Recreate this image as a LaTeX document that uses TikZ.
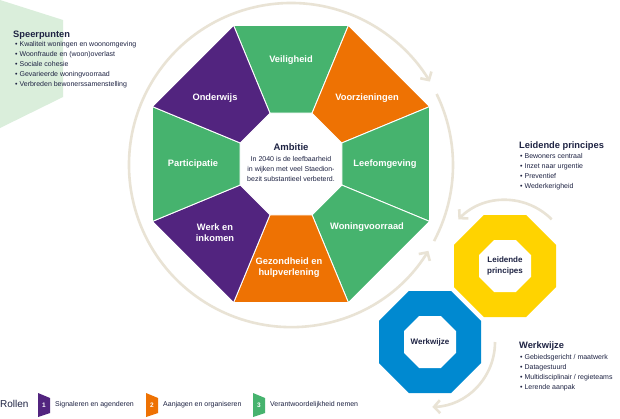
\documentclass[tikz,border=0pt]{standalone}
\usepackage{fontspec}
\setmainfont{Liberation Sans}
\usepackage{xcolor}
\usepackage{tikz}
\usetikzlibrary{arrows.meta}
\usetikzlibrary{shapes.geometric}
\usetikzlibrary{calc}

\definecolor{stgreen}{HTML}{46B36E}
\definecolor{stpurple}{HTML}{52247F}
\definecolor{storange}{HTML}{EE7203}
\definecolor{styellow}{HTML}{FFD300}
\definecolor{stblue}{HTML}{0089D0}
\definecolor{stnavy}{HTML}{1E2343}
\definecolor{stbeige}{HTML}{E9E3D5}
\definecolor{stmint}{HTML}{DAEEDB}

\begin{document}
\begin{tikzpicture}[x=1pt,y=-1pt]
      \tikzstyle{segment}=[draw=white,line width=0.9pt,line join=round]
      \tikzstyle{seglabel}=[text=white,font=\bfseries\fontsize{9.3}{11}\selectfont,align=center,inner sep=0pt]
      \tikzstyle{loopline}=[draw=stbeige,line width=2.6pt]
      \tikzstyle{barbs}=[{Straight Barb[length=6pt,width=13pt]}-{Straight Barb[length=6pt,width=13pt]}]
      \tikzstyle{barb}=[-{Straight Barb[length=6pt,width=13pt]}]
      \tikzstyle{heading}=[text=stnavy,font=\bfseries\fontsize{9.3}{11}\selectfont,anchor=west,inner sep=0pt]
      \tikzstyle{itemlist}=[text=stnavy,font=\fontsize{7}{10}\selectfont,anchor=west,align=left,inner sep=0pt]
      \tikzstyle{ring}=[regular polygon,regular polygon sides=8,inner sep=0pt]
      \tikzstyle{ringlabel}=[text=stnavy,font=\bfseries\fontsize{8}{11}\selectfont,align=center]
      \tikzstyle{badgenum}=[text=white,font=\bfseries\fontsize{6.5}{7}\selectfont,inner sep=0pt]
      \tikzstyle{legendtext}=[text=stnavy,font=\fontsize{7}{8}\selectfont,anchor=west,inner sep=0pt]

      \fill[white] (0,0) rectangle (620,418);
      \useasboundingbox (0,0) rectangle (620,418);

      % speerpunten
      \fill[stmint] (0,0) -- (63,20) -- (63,97) -- (0,128) -- cycle;
      \node[heading] (speer) at (13,35) {Speerpunten};
      \node[itemlist] (speerlist) at (15,65) {\textbullet\ Kwaliteit woningen en woonomgeving\\
        \textbullet\ Woonfraude en (woon)overlast\\
        \textbullet\ Sociale cohesie\\
        \textbullet\ Gevarieerde woningvoorraad\\
        \textbullet\ Verbreden bewonerssamenstelling};

      % big circle
      \coordinate (hub) at (291,165);
      \draw[loopline,barbs] ($(hub)+(32:162)$) arc[start angle=32, end angle=329, radius=162];
      \draw[loopline] ($(hub)+(-26:162)$) arc[start angle=-26, end angle=28, radius=162];

      % octagon of themes
      \begin{scope}[shift={(291,164)}]
        \path[segment,fill=stgreen]  (-112.5:150) -- (-67.5:150) -- (-67.5:55) -- (-112.5:55) -- cycle;
        \path[segment,fill=storange] (-67.5:150) -- (-22.5:150) -- (-22.5:55) -- (-67.5:55) -- cycle;
        \path[segment,fill=stgreen]  (-22.5:150) -- (22.5:150) -- (22.5:55) -- (-22.5:55) -- cycle;
        \path[segment,fill=stgreen]  (22.5:150) -- (67.5:150) -- (67.5:55) -- (22.5:55) -- cycle;
        \path[segment,fill=storange] (67.5:150) -- (112.5:150) -- (112.5:55) -- (67.5:55) -- cycle;
        \path[segment,fill=stpurple] (112.5:150) -- (157.5:150) -- (157.5:55) -- (112.5:55) -- cycle;
        \path[segment,fill=stgreen]  (157.5:150) -- (202.5:150) -- (202.5:55) -- (157.5:55) -- cycle;
        \path[segment,fill=stpurple] (202.5:150) -- (247.5:150) -- (247.5:55) -- (202.5:55) -- cycle;
      \end{scope}
      \node[seglabel] (veilig) at (291,60) {Veiligheid};
      \node[seglabel] (voorz) at (367,98) {Voorzieningen};
      \node[seglabel] (leefomg) at (385,164) {Leefomgeving};
      \node[seglabel] (woning) at (367,227) {Woningvoorraad};
      \node[seglabel] (gezond) at (289,268) {Gezondheid en\\hulpverlening};
      \node[seglabel] (werk) at (215,233) {Werk en\\inkomen};
      \node[seglabel] (partic) at (193,164) {Participatie};
      \node[seglabel] (onderw) at (215,98) {Onderwijs};

      \node[text=stnavy,font=\bfseries\fontsize{9.5}{11}\selectfont,inner sep=0pt] (ambitie) at (291,147) {Ambitie};
      \node[text=stnavy,font=\fontsize{7}{10}\selectfont,align=center,inner sep=0pt] (ambitext) at (291,169)
        {In 2040 is de leefbaarheid\\in wijken met veel Staedion-\\bezit substantieel verbeterd.};

      % leidende principes
      \node[ring,fill=styellow,minimum size=110.4pt] (leadring) at (505,266) {};
      \node[ring,fill=white,minimum size=56.3pt] (lead) at (505,266) {};
      \node[ringlabel] (leadtext) at (505,266) {Leidende\\principes};
      \draw[loopline,barb] ($(lead)+(-45:66)$) arc[start angle=-45, end angle=-135, radius=66];
      \node[heading] (leadhead) at (519,146) {Leidende principes};
      \node[itemlist] (leadlist) at (520,172) {\textbullet\ Bewoners centraal\\
        \textbullet\ Inzet naar urgentie\\
        \textbullet\ Preventief\\
        \textbullet\ Wederkerigheid};

      % werkwijze
      \node[ring,fill=stblue,minimum size=110.4pt] (workring) at (430,342) {};
      \node[ring,fill=white,minimum size=56.3pt] (work) at (430,342) {};
      \node[ringlabel] (worktext) at (430,342) {Werkwijze};
      \draw[loopline,barb] ($(work)+(0:65)$) arc[start angle=0, end angle=88, radius=65];
      \node[heading] (workhead) at (519,346) {Werkwijze};
      \node[itemlist] (worklist) at (520,373) {\textbullet\ Gebiedsgericht / maatwerk\\
        \textbullet\ Datagestuurd\\
        \textbullet\ Multidisciplinair / regieteams\\
        \textbullet\ Lerende aanpak};

      % rollen
      \node[text=stnavy,font=\fontsize{10}{12}\selectfont,anchor=west,inner sep=0pt] (rollen) at (0,404) {Rollen};
      \fill[stpurple] (38,393) -- (50,398) -- (50,413) -- (38,417) -- cycle;
      \node[badgenum] (one) at (44,405) {1};
      \node[legendtext] (signal) at (55,405) {Signaleren en agenderen};
      \fill[storange] (146,393) -- (158,398) -- (158,413) -- (146,417) -- cycle;
      \node[badgenum] (two) at (152,405) {2};
      \node[legendtext] (aanjagen) at (163,405) {Aanjagen en organiseren};
      \fill[stgreen] (253,393) -- (265,398) -- (265,413) -- (253,417) -- cycle;
      \node[badgenum] (three) at (259,405) {3};
      \node[legendtext] (verantw) at (270,405) {Verantwoordelijkheid nemen};
    \end{tikzpicture}
\end{document}
